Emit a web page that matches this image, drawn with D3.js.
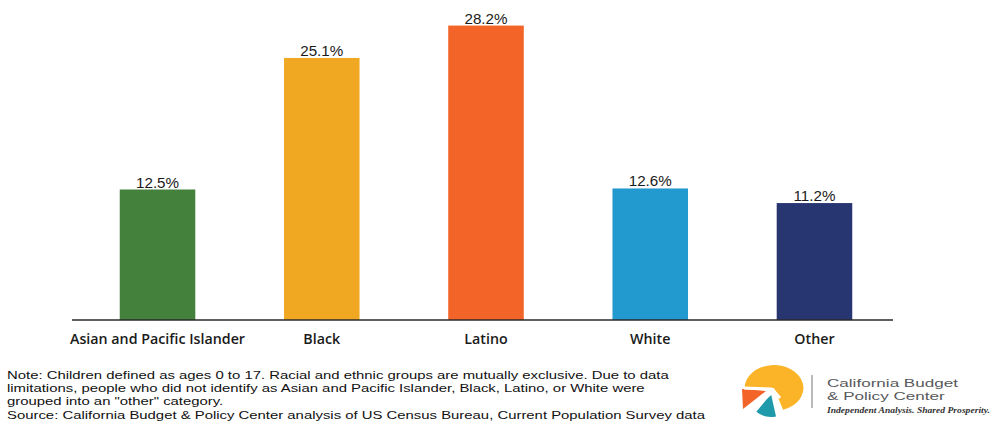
<!DOCTYPE html>
<html><head><meta charset="utf-8">
<script src="https://cdn.jsdelivr.net/npm/d3@7"></script>
<style>body{margin:0;background:#fff}svg{display:block}</style>
</head><body>
<svg id="c" width="995" height="428"></svg>
<script>
const categories = ["Asian and Pacific Islander", "Black", "Latino", "White", "Other"];
const values = [12.5, 25.1, 28.2, 12.6, 11.2];
const colors = ["#43813c", "#f0a822", "#f26427", "#2299cf", "#273571"];
const noteLines = [
  "Note: Children defined as ages 0 to 17. Racial and ethnic groups are mutually exclusive. Due to data",
  "limitations, people who did not identify as Asian and Pacific Islander, Black, Latino, or White were",
  "grouped into an \"other\" category.",
  "Source: California Budget & Policy Center analysis of US Census Bureau, Current Population Survey data"
];

const svg = d3.select("#c");
const x = d3.scaleBand().domain(categories).range([75.4, 896.6]).paddingInner(0.54).paddingOuter(0.27);
const y = d3.scaleLinear().domain([0, 30]).range([320, 6.8]);

// compress a selection horizontally so that the reference item (index ref) measures w
function squeeze(sel, ref, w) {
  const nodes = sel.nodes();
  const widths = nodes.map(n => n.getComputedTextLength());
  const k = w / widths[ref];
  nodes.forEach((n, i) => {
    d3.select(n).attr("textLength", widths[i] * k).attr("lengthAdjust", "spacingAndGlyphs");
  });
}

svg.selectAll("rect.bar").data(values).join("rect")
  .attr("class", "bar")
  .attr("x", (d, i) => x(categories[i]))
  .attr("width", x.bandwidth())
  .attr("y", d => y(d))
  .attr("height", d => y(0) - y(d))
  .attr("fill", (d, i) => colors[i]);

const axis = svg.append("g").attr("transform", `translate(0,${y(0)})`)
  .call(d3.axisBottom(x).tickSize(0).tickPadding(0));
axis.select(".domain").attr("stroke", "#2a2a2a").attr("stroke-width", 1.6).attr("d", "M72,0H893");
axis.selectAll(".tick text").remove();

const cats = svg.selectAll("text.cat").data(categories).join("text")
  .attr("class", "cat")
  .attr("x", d => x(d) + x.bandwidth() / 2)
  .attr("y", 344)
  .attr("text-anchor", "middle")
  .attr("font-family", "'Open Sans','Liberation Sans',sans-serif").attr("font-weight", 600)
  .attr("font-size", 15).attr("fill", "#1a1a1a")
  .text(d => d);
squeeze(cats, 0, 175);

const vals = svg.selectAll("text.val").data(values).join("text")
  .attr("class", "val")
  .attr("x", (d, i) => x(categories[i]) + x.bandwidth() / 2)
  .attr("y", d => y(d) - 2)
  .attr("text-anchor", "middle")
  .attr("font-family", "'Liberation Sans',Arial,sans-serif")
  .attr("font-size", 15.5).attr("fill", "#1a1a1a")
  .text(d => d.toFixed(1) + "%");
squeeze(vals, 0, 43);

const notes = svg.append("g").selectAll("text").data(noteLines).join("text")
  .attr("x", 7).attr("y", (d, i) => 378.5 + i * 13.4)
  .attr("font-family", "'Liberation Sans',Arial,sans-serif").attr("font-size", 11.6).attr("fill", "#111")
  .text(d => d);
squeeze(notes, 3, 698);

// logo
const logo = svg.append("g");
logo.append("path").attr("transform", "translate(774,388) scale(1.05,0.82)")
  .attr("d", d3.arc()({innerRadius: 0, outerRadius: 28, startAngle: -Math.PI * 0.5, endAngle: Math.PI * 0.9}))
  .attr("fill", "#fbb428");
logo.append("path").attr("transform", "translate(771,394)")
  .attr("d", d3.arc()({innerRadius: 0, outerRadius: 23, startAngle: Math.PI * 0.93, endAngle: Math.PI * 1.22}))
  .attr("fill", "#1f9aab");
logo.append("path").attr("d", "M742,389 L766,391 L743,409 Z").attr("fill", "#f26427");
logo.append("path").attr("d", "M745,414 L772,392").attr("stroke", "#fff").attr("stroke-width", 4);
logo.append("path").attr("d", "M744,388 L772,389 M772,389 L780,398").attr("stroke", "#fff").attr("stroke-width", 3);
logo.append("line").attr("x1", 812).attr("x2", 812).attr("y1", 375).attr("y2", 408).attr("stroke", "#777").attr("stroke-width", 1);
const brand = logo.selectAll("text.brand").data(["California Budget", "& Policy Center"]).join("text")
  .attr("class", "brand")
  .attr("x", 827).attr("y", (d, i) => 386.5 + i * 13.5)
  .attr("font-family", "'Liberation Sans',Arial,sans-serif")
  .attr("font-size", 11.7).attr("fill", "#58595b").text(d => d);
squeeze(brand, 0, 131);
const tag = logo.append("text").attr("x", 827).attr("y", 413).attr("font-family", "'Liberation Serif',serif")
  .attr("font-style", "italic").attr("font-weight", "bold").attr("font-size", 8.5).attr("fill", "#333")
  .text("Independent Analysis. Shared Prosperity.");
squeeze(tag, 0, 163);
</script>
</body></html>
